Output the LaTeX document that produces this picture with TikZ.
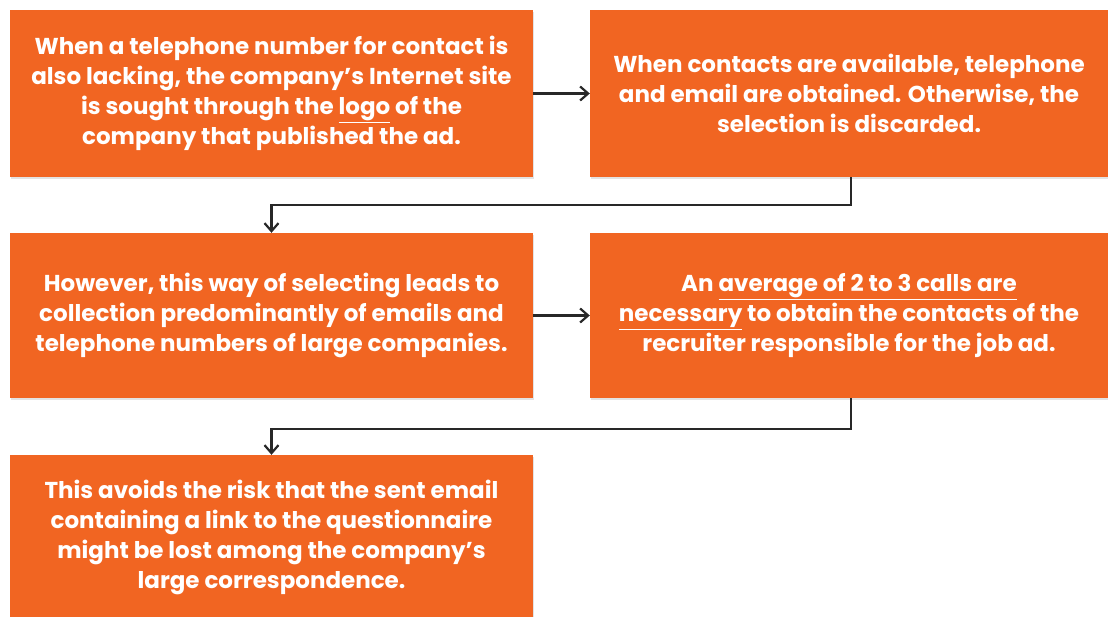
\documentclass[tikz,border=0pt]{standalone}
\usepackage{fontspec}
\setmainfont{Poppins}[UprightFont=* Bold, BoldFont=* Bold]
\usetikzlibrary{arrows.meta,shadows}
\definecolor{boxorange}{RGB}{241,101,34}
\definecolor{linegray}{RGB}{40,40,40}
\tikzset{
  stepbox/.style={fill=boxorange, draw=none, text=white, align=center,
    inner sep=0pt, font=\fontsize{23}{30}\selectfont,
    drop shadow={opacity=0.22, shadow xshift=0.8pt, shadow yshift=-2pt}},
  flow/.style={draw=linegray, line width=2.2pt,
    -{Straight Barb[length=8pt,width=14pt]}}
}
\begin{document}
\begin{tikzpicture}[x=1pt,y=-1pt]
\useasboundingbox (0,0) rectangle (1108,617);
\node[stepbox, minimum width=523pt, minimum height=167pt] (b1) at (271.5,93.5)
  {When a telephone number for contact is\\also lacking, the company’s Internet site\\is sought through the \underline{logo} of the\\company that published the ad.};
\node[stepbox, minimum width=518pt, minimum height=167pt] (b2) at (849,93.5)
  {When contacts are available, telephone\\and email are obtained. Otherwise, the\\selection is discarded.};
\node[stepbox, minimum width=523pt, minimum height=165pt] (b3) at (271.5,315.5)
  {However, this way of selecting leads to\\collection predominantly of emails and\\telephone numbers of large companies.};
\node[stepbox, minimum width=518pt, minimum height=165pt] (b4) at (849,315.5)
  {An \underline{average of 2 to 3 calls are}\\\underline{necessary} to obtain the contacts of the\\recruiter responsible for the job ad.};
\node[stepbox, minimum width=523pt, minimum height=164pt] (b5) at (271.5,537)
  {This avoids the risk that the sent email\\containing a link to the questionnaire\\might be lost among the company’s\\large correspondence.};
\coordinate (t1) at (851,205);
\coordinate (t2) at (851,429);
\draw[flow] (b1.east) -- (b2.west);
\draw[flow] (b3.east) -- (b4.west);
\draw[flow] (b2.south -| t1) -- (t1) -| (b3.north);
\draw[flow] (b4.south -| t2) -- (t2) -| (b5.north);
\end{tikzpicture}
\end{document}
